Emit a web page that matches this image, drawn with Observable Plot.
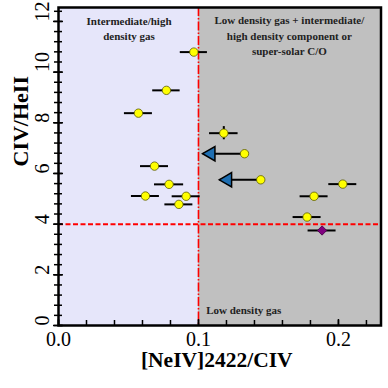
<!DOCTYPE html>
<html><head><meta charset="utf-8">
<script src="https://cdn.jsdelivr.net/npm/d3@7"></script>
<script src="https://cdn.jsdelivr.net/npm/@observablehq/plot@0.6"></script>
<style>body{margin:0;background:#fff} svg text{font-family:"Liberation Serif","Times New Roman",serif !important;}</style>
</head><body><div id="chart"></div>
<script>
// Yellow measured points
const ptX    = [0.0967, 0.0771, 0.0571, 0.0686, 0.0790, 0.0621, 0.0912, 0.0860, 0.1181, 0.2031, 0.1826, 0.1776];
const ptY    = [10.79, 9.28, 8.38, 6.29, 5.57, 5.11, 5.10, 4.78, 7.59, 5.58, 5.10, 4.28];
const ptXErr = [0.0097, 0.0098, 0.010, 0.010, 0.0104, 0.010, 0.010, 0.010, 0.0102, 0.010, 0.010, 0.010];
const ptYErr = [0, 0, 0, 0, 0, 0, 0, 0, 0.26, 0, 0, 0];
// Upper limits in [NeIV]/CIV (arrows)
const limX   = [0.1329, 0.1445];
const limY   = [6.78, 5.75];
const limTip = [0.1031, 0.1150];
// Purple diamond
const dmX = [0.1883], dmY = [3.75], dmXErr = [0.010];
// Regions & threshold lines
const regionEdges = [0, 0.1, 0.2304];
const xThreshold = [0.1];
const yThreshold = [4];
// Axes
const xDomain = [0, 0.2304], yDomain = [0, 12.55];
const xMajor = [0, 0.1, 0.2];
const xMajorLabels = ["0.0", "0.1", "0.2"];
const xMinor = d3.range(0, 0.2301, 0.02);
const yMajor = [0, 2, 4, 6, 8, 10, 12];
const yMinor = d3.range(0, 12.41, 0.4);
const xTitle = "[NeIV]2422/CIV";
const yTitle = "CIV/HeII";
const noteLeft = "Intermediate/high\ndensity gas";
const noteRight = "Low density gas + intermediate/\nhigh density component or\nsuper-solar C/O";
const noteBottom = "Low density gas";

const pts = ptX.map((x, i) => ({x, y: ptY[i], xe: ptXErr[i], ye: ptYErr[i]}));
const lims = limX.map((x, i) => ({x, y: limY[i], tip: limTip[i]}));
const dms = dmX.map((x, i) => ({x, y: dmY[i], xe: dmXErr[i]}));
const regions = [{x1: regionEdges[0], x2: regionEdges[1]}, {x1: regionEdges[1], x2: regionEdges[2]}];
const regionFill = ["#e6e6fa", "#c0c0c0"];

const serif = "Liberation Serif";
const chart = Plot.plot({
  width: 388, height: 388,
  marginLeft: 58, marginRight: 7.5, marginTop: 7, marginBottom: 63,
  style: {background: "white", overflow: "visible"},
  x: {domain: xDomain},
  y: {domain: yDomain},
  marks: [
    Plot.rect(regions, {x1: "x1", x2: "x2", fill: (d, i) => regionFill[i]}),
    Plot.ruleX(xThreshold, {stroke: "#ff0000", strokeWidth: 1.6, strokeDasharray: "9,2,1.5,2"}),
    Plot.ruleY(yThreshold, {stroke: "#ff0000", strokeWidth: 2, strokeDasharray: "5,2.5"}),
    // error bars
    Plot.ruleY(pts, {y: "y", x1: d => d.x - d.xe, x2: d => d.x + d.xe, stroke: "black", strokeWidth: 2}),
    Plot.ruleX(pts.filter(d => d.ye > 0), {x: "x", y1: d => d.y - d.ye, y2: d => d.y + d.ye, stroke: "black", strokeWidth: 2}),
    Plot.ruleY(dms, {y: "y", x1: d => d.x - d.xe, x2: d => d.x + d.xe, stroke: "black", strokeWidth: 2}),
    // arrows
    Plot.link(lims, {x1: "x", x2: "tip", y1: "y", y2: "y", stroke: "black", strokeWidth: 2}),
    Plot.dot(lims, {x: "tip", y: "y", symbol: "triangle", r: 5.3, rotate: -90, dx: 8, fill: "#1f6fb2", stroke: "black", strokeWidth: 1.5}),
    // points
    Plot.dot(pts, {x: "x", y: "y", r: 4.2, fill: "#ffff00", stroke: "#5a5a00", strokeWidth: 0.8}),
    Plot.dot(lims, {x: "x", y: "y", r: 4.2, fill: "#ffff00", stroke: "#5a5a00", strokeWidth: 0.8}),
    Plot.dot(dms, {x: "x", y: "y", symbol: "diamond2", r: 4.2, fill: "#800080", stroke: "#400040", strokeWidth: 0.8}),
    // annotations
    Plot.text([noteLeft], {x: () => 0.0504, frameAnchor: "top", dy: 6, lineAnchor: "top", fontFamily: serif, fontSize: 11, fontWeight: "bold", lineHeight: 1.43, fill: "#222"}),
    Plot.text([noteRight], {x: () => 0.1649, frameAnchor: "top", dy: 5.5, lineAnchor: "top", fontFamily: serif, fontSize: 11, fontWeight: "bold", lineHeight: 1.41, fill: "#222"}),
    Plot.text([noteBottom], {x: () => 0.1055, frameAnchor: "bottom", dy: -15.5, lineAnchor: "middle", textAnchor: "start", fontFamily: serif, fontSize: 11, fontWeight: "bold", fill: "#222"}),
    // ticks
    Plot.axisX({ticks: xMinor, anchor: "bottom", tickSize: 5, dy: -5, text: null, label: null, strokeWidth: 1.5}),
    Plot.axisX({ticks: xMajor, anchor: "bottom", tickSize: 6, dy: -6, text: null, label: null, strokeWidth: 1.5}),
    Plot.axisY({ticks: yMinor, anchor: "left", tickSize: 8, dx: 4, text: null, label: null, strokeWidth: 1.5}),
    Plot.axisY({ticks: yMajor, anchor: "left", tickSize: 10, dx: 5, text: null, label: null, strokeWidth: 1.5}),
    Plot.text(xMajor, {x: d => d, text: (d, i) => xMajorLabels[i], frameAnchor: "bottom", dy: 14, lineAnchor: "middle", fontFamily: serif, fontSize: 20, fill: "black"}),
    Plot.text(yMajor, {y: d => d, text: d => String(d), frameAnchor: "left", dx: -15.5, rotate: -90, lineAnchor: "middle", fontFamily: serif, fontSize: 20, fill: "black"}),
    Plot.text([xTitle], {frameAnchor: "bottom", dy: 35, dx: -3, lineAnchor: "middle", fontFamily: serif, fontSize: 21.5, fontWeight: "bold", fill: "black"}),
    Plot.text([yTitle], {frameAnchor: "left", dx: -38, rotate: -90, lineAnchor: "middle", fontFamily: serif, fontSize: 22, fontWeight: "bold", fill: "black"}),
    Plot.frame({stroke: "black", strokeWidth: 2.5})
  ]
});
document.getElementById("chart").append(chart);
</script>
</body></html>
